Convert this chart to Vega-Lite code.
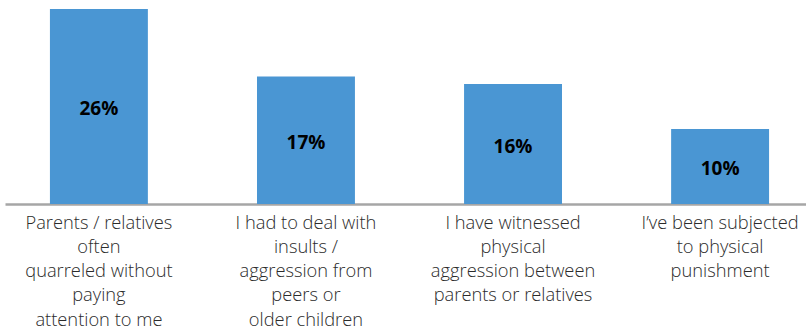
{
  "$schema": "https://vega.github.io/schema/vega-lite/v6.json",
  "autosize": "none",
  "width": 809,
  "height": 204,
  "padding": {"left": 5, "top": 0, "right": 0, "bottom": 132},
  "background": "white",
  "config": {"view": {"stroke": null}},
  "data": {"values": [
    {"item": "Parents / relatives|often|quarreled without|paying|attention to me", "pct": 0.26},
    {"item": "I had to deal with|insults /|aggression from|peers or|older children", "pct": 0.17},
    {"item": "I have witnessed|physical|aggression between|parents or relatives", "pct": 0.16},
    {"item": "I’ve been subjected|to physical|punishment", "pct": 0.10}
  ]},
  "encoding": {
    "x": {"field": "item", "type": "nominal", "sort": null,
      "scale": {"paddingInner": 0.527, "paddingOuter": 0.217},
      "axis": {"title": null, "labelAngle": 0, "labelExpr": "split(datum.value, '|')",
        "labelFont": "Open Sans", "labelFontSize": 18.3, "labelFontWeight": 300, "labelColor": "#2b2b2b",
        "labelLineHeight": 24.3, "labelPadding": 10, "ticks": false,
        "domainColor": "#a6a6a6", "domainWidth": 2.5, "labelBaseline": "top"}}
  },
  "layer": [
    {"mark": {"type": "bar", "color": "#4a96d3"},
     "encoding": {"y": {"field": "pct", "type": "quantitative", "scale": {"domain": [0, 0.272], "nice": false}, "axis": null}}},
    {"transform": [{"calculate": "datum.pct / 2", "as": "mid"}],
     "mark": {"type": "text", "font": "Open Sans", "fontWeight": "bold", "fontSize": 19, "color": "#000000", "baseline": "middle", "dy": 2.5},
     "encoding": {"y": {"field": "mid", "type": "quantitative"},
       "text": {"field": "pct", "type": "quantitative", "format": ".0%"}}}
  ]
}
